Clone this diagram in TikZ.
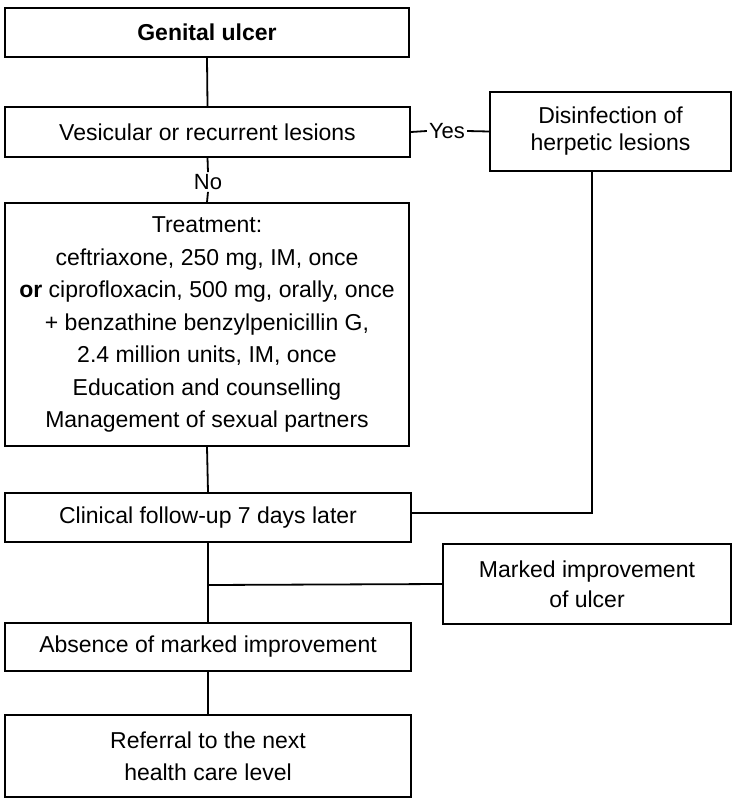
\documentclass[tikz,border=0pt]{standalone}
\usepackage{fontspec}
\setmainfont{Liberation Sans}
\begin{document}
\begin{tikzpicture}[x=1pt,y=-1pt,
  box/.style={draw, line width=1.8pt, inner sep=0pt, align=center,
    font=\fontsize{23}{32}\selectfont},
  tag/.style={inner sep=2pt, font=\fontsize{22}{26}\selectfont},
  link/.style={line width=1.8pt}]
\useasboundingbox (0,0) rectangle (733,798);

% main column
\node[box, minimum width=404pt, minimum height=49pt, font=\fontsize{23}{32}\selectfont\bfseries]
  (gu) at (207,32.5) {Genital ulcer};
\node[box, minimum width=405pt, minimum height=50pt] (ves) at (207.5,132)
  {Vesicular or recurrent lesions};
\node[box, minimum width=404pt, minimum height=243pt,
      font=\fontsize{23}{32.5}\selectfont] (treat) at (207,324.5)
  {Treatment:\\
   ceftriaxone, 250 mg, IM, once\\
   \textbf{or} ciprofloxacin, 500 mg, orally, once\\
   + benzathine benzylpenicillin G,\\
   2.4 million units, IM, once\\
   Education and counselling\\
   Management of sexual partners};
\node[box, minimum width=406pt, minimum height=49pt] (fu) at (208,517.5)
  {Clinical follow-up 7 days later};
\node[box, minimum width=406pt, minimum height=48pt] (ab) at (208,647)
  {Absence of marked improvement};
\node[box, minimum width=406pt, minimum height=82pt] (ref) at (208,756)
  {Referral to the next\\health care level};

% side column
\node[box, minimum width=241pt, minimum height=79pt,
      font=\fontsize{23}{27}\selectfont] (dis) at (610.5,131.5)
  {Disinfection of\\herpetic lesions};
\node[box, minimum width=288pt, minimum height=80pt,
      font=\fontsize{23}{30}\selectfont] (mi) at (587,584)
  {Marked improvement\\of ulcer};

% branch labels
\node[tag] (yes) at (447,131) {Yes};
\node[tag] (no) at (208,182) {No};

% connectors
\coordinate (dturn) at (592,513);
\coordinate (split) at (208,585);
\draw[link] (gu.south) -- (ves.north);
\draw[link] (ves.east) -- (yes.west);
\draw[link] (yes.east) -- (dis.west);
\draw[link] (ves.south) -- (no.north);
\draw[link] (no.south) -- (treat.north);
\draw[link] (treat.south) -- (fu.north);
\draw[link] (dis.south -| dturn) -- (dturn) -- (fu.east |- dturn);
\draw[link] (fu.south) -- (ab.north);
\draw[link] (split) -- (mi.west);
\draw[link] (ab.south) -- (ref.north);
\end{tikzpicture}
\end{document}
